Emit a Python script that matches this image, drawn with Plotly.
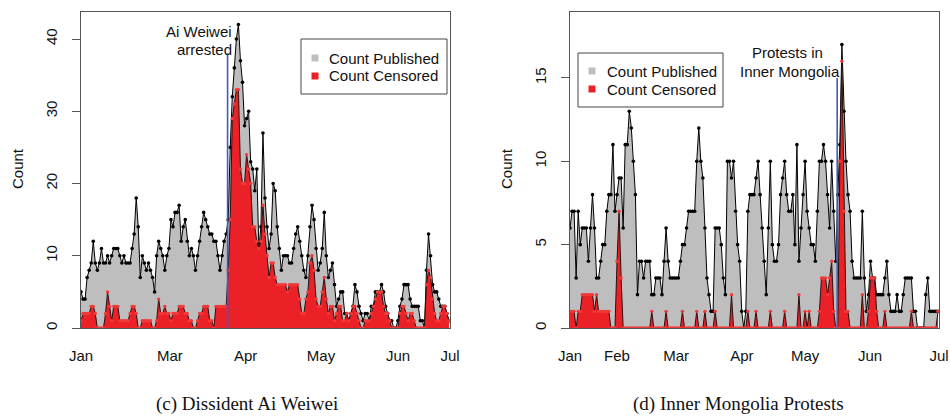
import plotly.graph_objects as go

# ---------------- data (daily counts, index 0 = Jan) ----------------
day = list(range(181))

weiwei_published = [
    5, 4, 4, 7, 8, 9, 12, 9, 8, 9,
    11, 9, 9, 10, 9, 10, 11, 11, 11, 10,
    9, 10, 9, 9, 9, 11, 13, 18, 14, 7,
    10, 9, 8, 9, 8, 7, 5, 10, 12, 11,
    10, 8, 10, 11, 15, 14, 16, 16, 17, 12,
    14, 15, 12, 10, 11, 10, 8, 10, 12, 14,
    16, 15, 14, 13, 13, 12, 12, 10, 8, 10,
    12, 13, 15, 25, 32, 36, 40, 42, 37, 34,
    28, 29, 30, 23, 22, 19, 22, 11, 14, 27,
    18, 14, 11, 13, 20, 19, 14, 11, 8, 10,
    10, 10, 9, 9, 11, 13, 14, 12, 10, 8,
    7, 10, 14, 17, 15, 11, 8, 9, 11, 16,
    10, 7, 8, 9, 6, 3, 4, 5, 5, 2,
    2, 1, 2, 3, 6, 5, 3, 2, 1, 2,
    2, 1, 3, 3, 5, 5, 5, 6, 5, 3,
    2, 1, 1, 0, 0, 1, 3, 4, 6, 6,
    6, 4, 3, 3, 3, 3, 1, 1, 0, 8,
    13, 10, 6, 5, 5, 4, 3, 3, 3, 2, 1,
]
weiwei_censored = [
    1, 2, 2, 2, 2, 3, 3, 2, 0, 0,
    0, 0, 2, 5, 3, 1, 3, 3, 3, 1,
    1, 1, 1, 1, 2, 3, 3, 2, 0, 0,
    1, 1, 1, 1, 1, 0, 0, 1, 4, 2,
    2, 3, 2, 2, 1, 2, 2, 2, 3, 3,
    3, 2, 2, 1, 1, 0, 0, 1, 2, 2,
    3, 3, 3, 1, 1, 0, 3, 3, 3, 3,
    3, 3, 8, 15, 29, 31, 33, 33, 22, 20,
    20, 24, 22, 20, 14, 14, 12, 11, 12, 17,
    13, 10, 7, 9, 9, 7, 6, 6, 6, 6,
    6, 5, 6, 6, 6, 6, 6, 4, 2, 2,
    4, 5, 9, 10, 8, 4, 3, 3, 5, 7,
    4, 2, 3, 3, 1, 2, 3, 3, 1, 1,
    2, 1, 2, 3, 3, 2, 1, 0, 0, 1,
    1, 1, 2, 3, 4, 5, 5, 5, 3, 2,
    2, 1, 0, 0, 0, 0, 2, 3, 3, 2,
    1, 2, 2, 1, 0, 0, 0, 0, 0, 6,
    8, 7, 4, 2, 1, 1, 2, 3, 3, 2, 1,
]

mongolia_published = [
    6, 7, 7, 3, 7, 5, 6, 6, 6, 4,
    6, 8, 6, 3, 3, 4, 5, 5, 7, 8,
    8, 11, 7, 8, 9, 9, 6, 11, 11, 13,
    12, 10, 8, 2, 4, 4, 3, 4, 4, 4,
    2, 2, 3, 3, 3, 2, 4, 6, 4, 3,
    3, 3, 3, 3, 4, 5, 5, 6, 7, 7,
    7, 7, 10, 12, 10, 9, 6, 3, 2, 1,
    1, 6, 6, 6, 5, 3, 2, 10, 10, 9,
    10, 7, 5, 4, 1, 0, 1, 7, 8, 8,
    8, 9, 10, 8, 6, 4, 2, 6, 10, 5,
    4, 4, 5, 8, 9, 10, 8, 7, 7, 8,
    5, 11, 4, 6, 8, 10, 7, 6, 5, 5,
    4, 7, 10, 10, 11, 10, 8, 6, 10, 7,
    4, 8, 11, 17, 13, 10, 8, 7, 4, 3,
    3, 3, 3, 7, 3, 1, 2, 4, 3, 3,
    2, 2, 2, 2, 3, 4, 2, 1, 1, 1,
    2, 1, 1, 2, 3, 3, 3, 3, 1, 1,
    0, 0, 0, 0, 2, 3, 1, 1, 1, 1, 1,
]
mongolia_censored = [
    1, 1, 1, 0, 1, 1, 2, 2, 2, 2,
    2, 2, 1, 2, 1, 1, 1, 1, 1, 1,
    0, 0, 0, 4, 7, 3, 0, 0, 0, 0,
    0, 0, 0, 0, 0, 0, 0, 0, 0, 0,
    1, 0, 0, 0, 0, 0, 0, 1, 0, 0,
    0, 0, 0, 0, 0, 1, 0, 0, 0, 0,
    0, 0, 1, 0, 0, 0, 1, 0, 0, 0,
    0, 1, 0, 0, 0, 0, 0, 0, 0, 2,
    0, 0, 0, 0, 0, 0, 0, 1, 0, 0,
    0, 1, 0, 0, 0, 0, 0, 0, 1, 0,
    0, 0, 0, 0, 0, 1, 0, 0, 0, 0,
    0, 0, 2, 0, 0, 1, 0, 1, 0, 0,
    0, 0, 1, 3, 3, 3, 2, 3, 4, 1,
    0, 0, 10, 16, 7, 1, 1, 0, 0, 0,
    0, 0, 0, 2, 0, 0, 1, 3, 3, 3,
    1, 0, 0, 0, 1, 0, 0, 0, 0, 0,
    0, 0, 0, 0, 0, 0, 0, 1, 0, 0,
    0, 0, 0, 0, 0, 0, 0, 0, 0, 0, 1,
]

weiwei_month_labels = ["Jan", "Mar", "Apr", "May", "Jun", "Jul"]
mongolia_month_labels = ["Jan", "Feb", "Mar", "Apr", "May", "Jun", "Jul"]
legend_labels = ["Count Published", "Count Censored"]

# event markers (day index, height)
weiwei_event_day, weiwei_event_top = 71.7, 38
mongolia_event_day, mongolia_event_top = 130.7, 15

# ---------------- styling ----------------
W, H = 950, 417
GREY = "#BEBEBE"
RED = "#EC2127"
BLUE = "#3E5DBE"
SANS = "Liberation Sans, Arial, Helvetica, sans-serif"
NARROW = "Liberation Sans Narrow, Arial Narrow, Liberation Sans, Arial, sans-serif"
SERIF = "Liberation Serif, Times New Roman, Times, serif"


def px(x):
    return x / W


def py(y):
    return 1 - y / H


fig = go.Figure()


def add_panel(xa, ya, pub, cen):
    fig.add_trace(go.Scatter(
        x=day, y=pub, xaxis=xa, yaxis=ya, mode="lines+markers",
        fill="tozeroy", fillcolor=GREY,
        line=dict(color="black", width=1),
        marker=dict(color="black", size=3.6),
        showlegend=False, hoverinfo="skip"))
    fig.add_trace(go.Scatter(
        x=day, y=cen, xaxis=xa, yaxis=ya, mode="lines+markers",
        fill="tozeroy", fillcolor=RED,
        line=dict(color="#2a1010", width=1),
        marker=dict(color="#F03A3A", size=3.4),
        showlegend=False, hoverinfo="skip"))


add_panel("x", "y", weiwei_published, weiwei_censored)
add_panel("x2", "y2", mongolia_published, mongolia_censored)

YB, YT = 328.0, 11.7
ydom = [py(YB), py(YT)]
XMAX = 180.5

axis_common = dict(showgrid=False, zeroline=False, showline=True, mirror=True,
                   linecolor="#555555", linewidth=1, automargin=False)

fig.update_layout(
    template="none",
    width=W, height=H, margin=dict(l=0, r=0, t=0, b=0, pad=0),
    paper_bgcolor="white", plot_bgcolor="white",
    showlegend=False,
    xaxis=dict(domain=[px(81), px(450)], range=[0, XMAX], ticks="",
               tickmode="array",
               tickvals=[0, 43.5, 80.5, 117.4, 155.1, XMAX],
               ticktext=weiwei_month_labels,
               tickfont=dict(family=NARROW, size=15, color="#111"),
               ticklabelstandoff=14, **axis_common),
    yaxis=dict(domain=ydom, range=[0, (YB - YT) / 7.225], ticks="outside",
               ticklen=8, tickcolor="#555555",
               tickvals=[0, 10, 20, 30, 40], tickangle=-90,
               tickfont=dict(family=SANS, size=15, color="#111"),
               ticklabelstandoff=9, **axis_common),
    xaxis2=dict(domain=[px(570), px(939)], range=[0, XMAX], ticks="",
                tickmode="array",
                tickvals=[0, 23.0, 51.9, 84.1, 115.0, 146.8, XMAX],
                ticktext=mongolia_month_labels, anchor="y2",
                tickfont=dict(family=NARROW, size=15, color="#111"),
                ticklabelstandoff=14, **axis_common),
    yaxis2=dict(domain=ydom, range=[0, (YB - YT) / 16.67], ticks="outside",
                ticklen=8, tickcolor="#555555", anchor="x2",
                tickvals=[0, 5, 10, 15], tickangle=-90,
                tickfont=dict(family=SANS, size=15, color="#111"),
                ticklabelstandoff=9, **axis_common),
)

shapes = [
    dict(type="line", xref="x", yref="y", x0=weiwei_event_day, x1=weiwei_event_day,
         y0=0, y1=weiwei_event_top, line=dict(color=BLUE, width=1.6), layer="above"),
    dict(type="line", xref="x2", yref="y2", x0=mongolia_event_day, x1=mongolia_event_day,
         y0=0, y1=mongolia_event_top, line=dict(color=BLUE, width=1.6), layer="above"),
]
annotations = []


def legend_box(x0, y0, x1, y1, sq_x, text_x, rows):
    shapes.append(dict(type="rect", xref="paper", yref="paper",
                       x0=px(x0), x1=px(x1), y0=py(y1), y1=py(y0),
                       line=dict(color="#444444", width=1), fillcolor="white",
                       layer="above"))
    for (yy, col), label in zip(rows, legend_labels):
        s = 3.5
        shapes.append(dict(type="rect", xref="paper", yref="paper",
                           x0=px(sq_x - s), x1=px(sq_x + s), y0=py(yy + s), y1=py(yy - s),
                           line=dict(width=0), fillcolor=col, layer="above"))
        annotations.append(dict(xref="paper", yref="paper", x=px(text_x), y=py(yy),
                                xanchor="left", yanchor="middle", showarrow=False,
                                text=label, font=dict(family=SANS, size=15, color="#111")))


legend_box(301, 39, 447, 94, 315, 327, [(58, GREY), (76, RED)])
legend_box(578, 53, 723, 107, 592, 605, [(71, GREY), (89, RED)])


def text(x, y, s, anchor="center", size=15, family=SANS, angle=0):
    annotations.append(dict(xref="paper", yref="paper", x=px(x), y=py(y),
                            xanchor=anchor, yanchor="middle", showarrow=False,
                            text=s, textangle=angle,
                            font=dict(family=family, size=size, color="#111")))


text(234, 31.5, "Ai Weiwei", anchor="right")
text(234, 49.5, "arrested", anchor="right")
text(787, 52.5, "Protests in")
text(789.5, 71, "Inner Mongolia")
text(18, 169, "Count", angle=-90)
text(507, 169, "Count", angle=-90)
text(247, 404, "(c) Dissident Ai Weiwei", size=19, family=SERIF)
text(738, 404, "(d) Inner Mongolia Protests", size=19, family=SERIF)

fig.update_layout(shapes=shapes, annotations=annotations)
fig.write_html(
    "out.html",
    config={"displayModeBar": False, "staticPlot": True},
    post_script="document.body.style.margin='0';document.body.style.overflow='hidden';",
)
